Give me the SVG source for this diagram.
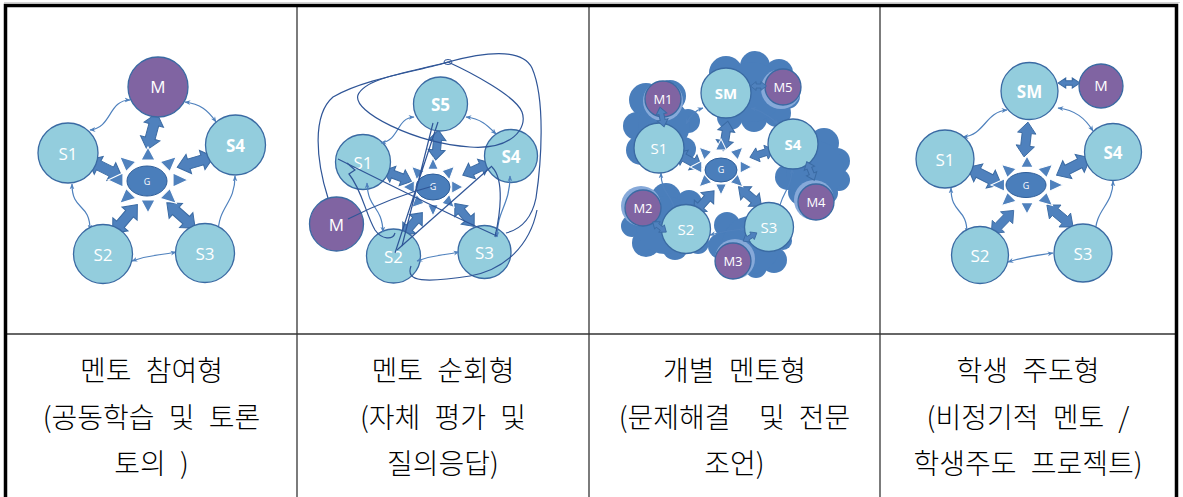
<svg xmlns="http://www.w3.org/2000/svg" xmlns:xlink="http://www.w3.org/1999/xlink" width="1183" height="497" viewBox="0 0 1183 497">
  <style>
    .nd { fill: #93CDDD; stroke: #3A6AA3; stroke-width: 1.3; }
    .mn { fill: #8064A2; stroke: #3A6AA3; stroke-width: 1.3; }
    .ba { fill: #4F81BD; stroke: #3A6AA3; stroke-width: 1; }
    .ray { fill: #4F81BD; stroke: #FFFFFF; stroke-width: 1.2; }
    .gc { fill: #4A7EBB; stroke: #2E5E9A; stroke-width: 1; }
    .lk { fill: none; stroke: #4F81BD; stroke-width: 1.2; marker-start: url(#tip); marker-end: url(#tip); }
    .lp { fill: none; stroke: #2F5597; stroke-width: 1.2; }
    .cl { fill: #4A7EBB; }
    .halo { fill: #86A9D9; }
    .lb { fill: #FFFFFF; font-family: "Open Sans", "Noto Sans", sans-serif; font-size: 17px; text-anchor: middle; }
    .lbs { font-size: 15px; }
    .lbm { font-size: 13px; }
    .b { font-weight: bold; }
    .gl { fill: #FFFFFF; font-family: "Open Sans", "Noto Sans", sans-serif; font-size: 9px; text-anchor: middle; }
    .cap { fill: #000000; font-family: "Noto Sans CJK KR", sans-serif; font-weight: 300; font-size: 28px; text-anchor: middle; word-spacing: 8px; }
    .grid { stroke: #444444; stroke-width: 1.4; }
    .frame { stroke: #000000; stroke-width: 3.5; fill: none; }
  </style>
  <defs>
    <marker id="tip" viewBox="0 0 10 10" refX="9" refY="5" markerWidth="6" markerHeight="6" markerUnits="userSpaceOnUse" orient="auto-start-reverse">
      <path d="M0,1 L10,5 L0,9 L3,5 Z" fill="#4F81BD"/>
    </marker>
    <!-- double-headed block arrows, centred on the origin along x -->
    <path id="bigA" d="M-19,0 L-7,-10 L-7,-5 L7,-5 L7,-10 L19,0 L7,10 L7,5 L-7,5 L-7,10 Z"/>
    <path id="medA" d="M-15,0 L-5,-8.5 L-5,-4 L5,-4 L5,-8.5 L15,0 L5,8.5 L5,4 L-5,4 L-5,8.5 Z"/>
    <path id="smlA" d="M-10,0 L-3,-5.5 L-3,-2.5 L3,-2.5 L3,-5.5 L10,0 L3,5.5 L3,2.5 L-3,2.5 L-3,5.5 Z"/>
    <!-- eight rays of the hub -->
    <path id="rays" d="M40,0 L25,-7 L25,7 Z M0,33 L-7,20 L7,20 Z M-40,0 L-25,-7 L-25,7 Z M0,-33 L-7,-20 L7,-20 Z M28.3,23.3 L12.05,18.35 L21.95,8.45 Z M-28.3,23.3 L-21.95,8.45 L-12.05,18.35 Z M-28.3,-23.3 L-21.95,-8.45 L-12.05,-18.35 Z M28.3,-23.3 L21.95,-8.45 L12.05,-18.35 Z"/>
  </defs>

  <rect width="1183" height="497" fill="#FFFFFF"/>

  <!-- table -->
  <g id="table">
    <line x1="4" y1="2.5" x2="1180" y2="2.5" stroke="#D4D4D4" stroke-width="1"/>
    <line class="grid" x1="297" y1="7" x2="297" y2="497"/>
    <line class="grid" x1="589" y1="7" x2="589" y2="497"/>
    <line class="grid" x1="880" y1="7" x2="880" y2="497"/>
    <line x1="7" y1="334" x2="1175" y2="334" stroke="#333333" stroke-width="1.3"/>
    <path class="frame" d="M5.5,497 L5.5,5.5 L1176.5,5.5 L1176.5,497"/>
  </g>

  <!-- panel 1 -->
  <g id="p1-connectors">
    <path class="lk" d="M130,100 C108,100 112,128 90,130"/>
    <path class="lk" d="M185,102 C200,104 208,110 216,122"/>
    <path class="lk" d="M235,176 C235,205 218,205 218,235"/>
    <path class="lk" d="M72,184 C72,212 90,202 90,230"/>
    <path class="lk" d="M132,261 C152,254 157,256 176,252"/>
    <use href="#bigA" class="ba" transform="translate(152,131.5) rotate(105)"/>
    <use href="#bigA" class="ba" transform="translate(105,168.5) rotate(26.6)"/>
    <use href="#bigA" class="ba" transform="translate(195.5,162) rotate(-16)"/>
    <use href="#bigA" class="ba" transform="translate(125,219) rotate(-49.4)"/>
    <use href="#bigA" class="ba" transform="translate(181,215.5) rotate(41.8)"/>
  </g>
  <g id="p1-G">
    <use href="#rays" class="ray" transform="translate(148,180)"/>
    <ellipse class="gc" cx="147" cy="181" rx="20" ry="15"/>
    <text class="gl" x="147" y="184.5">G</text>
  </g>
  <g id="p1-M"><circle class="mn" cx="158" cy="87" r="30"/><text class="lb" x="158" y="93">M</text></g>
  <g id="p1-S1"><circle class="nd" cx="68" cy="153" r="30"/><text class="lb" x="68" y="160">S1</text></g>
  <g id="p1-S4"><circle class="nd" cx="235.5" cy="145" r="30"/><text class="lb b" x="235.5" y="152">S4</text></g>
  <g id="p1-S2"><circle class="nd" cx="103" cy="254" r="29.5"/><text class="lb" x="103" y="261">S2</text></g>
  <g id="p1-S3"><circle class="nd" cx="205" cy="253" r="29.5"/><text class="lb" x="205" y="260">S3</text></g>

  <!-- panel 2 -->
  <g id="p2-arrows">
    <use href="#medA" class="ba" transform="translate(437,145) rotate(95)"/>
    <use href="#medA" class="ba" transform="translate(397.5,176) rotate(21)"/>
    <use href="#medA" class="ba" transform="translate(476.5,169) rotate(-24)"/>
    <use href="#medA" class="ba" transform="translate(412.5,224) rotate(-49)"/>
    <use href="#medA" class="ba" transform="translate(464.5,215) rotate(50)"/>
  </g>
  <g id="p2-G">
    <use href="#rays" class="ray" transform="translate(433,187) scale(0.75,0.88)"/>
    <ellipse class="gc" cx="433" cy="187" rx="17" ry="13"/>
    <text class="gl" x="433" y="190">G</text>
  </g>
  <g id="p2-S5"><circle class="nd" cx="440.5" cy="104" r="27"/><text class="lb b" x="440.5" y="111">S5</text></g>
  <g id="p2-S1"><circle class="nd" cx="363" cy="162" r="27.5"/><text class="lb" x="363" y="169">S1</text></g>
  <g id="p2-S4"><circle class="nd" cx="511" cy="156" r="26.5"/><text class="lb b" x="511" y="163">S4</text></g>
  <g id="p2-M"><circle class="mn" cx="336.5" cy="224" r="27"/><text class="lb" x="336.5" y="231">M</text></g>
  <g id="p2-S2"><circle class="nd" cx="393.5" cy="256" r="27"/><text class="lb" x="393.5" y="263">S2</text></g>
  <g id="p2-S3"><circle class="nd" cx="484.5" cy="252" r="26.5"/><text class="lb" x="484.5" y="259">S3</text></g>
  <g id="p2-connectors">
    <path class="lk" d="M414,117 C396,118 400,140 381,143"/>
    <path class="lk" d="M466,117 C482,119 488,126 496,134"/>
    <path class="lk" d="M367,183 C368,210 382,205 383,232"/>
    <path class="lk" d="M417,261 C436,254 441,256 459,252"/>
    <path class="lk" d="M510,176 C510,205 497,210 497,237"/>
    <path class="lp" d="M328,198 C316,160 312,115 333,97 C365,78 425,70 448,62 C485,52 522,48 532,68 C546,100 541,165 536,198 C531,222 518,230 506,233"/>
    <path class="lp" d="M448,62 C410,72 365,78 358,95 C352,112 415,143 470,147 C512,150 528,128 522,112 C516,96 470,72 448,62"/>
    <path class="lp" d="M338,159 C380,180 450,215 497,236"/>
    <path class="lp" d="M348,219 C380,203 410,192 433,186"/>
    <path class="lp" d="M395,253 L438,122 M402,246 L433,123"/>
    <path class="lp" d="M397,250 L492,166"/>
    <path class="lp" d="M411,266 C405,282 425,283 470,276 C505,270 530,245 537,210"/>
    <path class="lp" d="M347,163 L355,170 L349,174 C362,190 366,215 375,230 C382,240 393,240 395,233"/>
    <path class="lp" d="M492,167 C505,180 500,215 495,237"/>
    <ellipse cx="448" cy="62" rx="4" ry="2.5" fill="none" stroke="#2F5597" stroke-width="1"/>
  </g>

  <!-- panel 3 -->
  <g id="p3-clouds">
    <g class="cl">
      <circle cx="646" cy="100" r="17"/><circle cx="670" cy="96" r="16"/><circle cx="637" cy="126" r="14"/>
      <circle cx="688" cy="121" r="12"/><circle cx="641" cy="150" r="15"/><circle cx="663" cy="155" r="13"/>
      <circle cx="684" cy="149" r="12"/><circle cx="664" cy="125" r="26"/>
    </g>
    <g class="cl">
      <circle cx="726" cy="73" r="17"/><circle cx="755" cy="66" r="15"/><circle cx="779" cy="73" r="14"/>
      <circle cx="787" cy="96" r="13"/><circle cx="777" cy="113" r="14"/><circle cx="754" cy="119" r="13"/>
      <circle cx="730" cy="117" r="13"/><circle cx="715" cy="99" r="13"/><circle cx="752" cy="92" r="30"/>
    </g>
    <g class="cl">
      <circle cx="801" cy="143" r="15"/><circle cx="824" cy="143" r="15"/><circle cx="837" cy="161" r="13"/>
      <circle cx="839" cy="180" r="11"/><circle cx="827" cy="193" r="11"/><circle cx="801" cy="192" r="13"/>
      <circle cx="788" cy="177" r="13"/><circle cx="815" cy="170" r="29"/>
    </g>
    <g class="cl">
      <circle cx="643" cy="203" r="15"/><circle cx="666" cy="198" r="15"/><circle cx="689" cy="203" r="13"/>
      <circle cx="632" cy="226" r="11"/><circle cx="646" cy="243" r="14"/><circle cx="675" cy="247" r="13"/>
      <circle cx="698" cy="243" r="11"/><circle cx="665" cy="225" r="29"/>
    </g>
    <g class="cl">
      <circle cx="727" cy="225" r="13"/><circle cx="721" cy="246" r="13"/><circle cx="732" cy="263" r="13"/>
      <circle cx="756" cy="267" r="11"/><circle cx="774" cy="260" r="13"/><circle cx="783" cy="241" r="9"/>
      <circle cx="751" cy="245" r="29"/>
    </g>
  </g>
  <g id="p3-connectors">
    <path class="lk" d="M686,124 C692,113 697,110 703,108"/>
    <path class="lk" d="M661,173 C661,195 674,195 675,213"/>
    <path class="lk" d="M792,169 C792,190 779,195 779,213"/>
    <path class="lk" d="M710,235 C722,232 732,230 745,229"/>
    <path class="lk" d="M751,108 C765,112 772,118 778,124"/>
    <use href="#medA" class="ba" transform="translate(725.5,136) rotate(99)"/>
    <use href="#medA" class="ba" transform="translate(688.5,160) rotate(29)"/>
    <use href="#medA" class="ba" transform="translate(762,153.5) rotate(-17.6) scale(0.85)"/>
    <use href="#medA" class="ba" transform="translate(704,202) rotate(-48)"/>
    <use href="#medA" class="ba" transform="translate(750,196.5) rotate(40)"/>
  </g>
  <g id="p3-G">
    <use href="#rays" class="ray" transform="translate(721,167) scale(0.77,0.85)"/>
    <ellipse class="gc" cx="721" cy="170" rx="16" ry="12"/>
    <text class="gl" x="721" y="173">G</text>
  </g>
  <g id="p3-SM"><circle class="nd" cx="726" cy="93" r="25"/><text class="lb lbs b" x="726" y="99">SM</text></g>
  <g id="p3-M5"><circle class="halo" cx="781" cy="89" r="20"/><circle class="mn" cx="783" cy="87" r="18"/><text class="lb lbm" x="783" y="92">M5</text></g>
  <g id="p3-M1"><circle class="halo" cx="663" cy="101" r="20"/><circle class="mn" cx="663" cy="99" r="18"/><text class="lb lbm" x="663" y="104">M1</text></g>
  <g id="p3-S1"><circle class="nd" cx="659" cy="148" r="25"/><text class="lb lbs" x="659" y="154">S1</text></g>
  <g id="p3-S4"><circle class="nd" cx="793" cy="144" r="25"/><text class="lb lbs b" x="793" y="150">S4</text></g>
  <g id="p3-M4"><circle class="halo" cx="814" cy="200" r="20"/><circle class="mn" cx="816" cy="202" r="18"/><text class="lb lbm" x="816" y="207">M4</text></g>
  <g id="p3-M2"><circle class="halo" cx="641" cy="206" r="20"/><circle class="mn" cx="643" cy="208" r="18"/><text class="lb lbm" x="643" y="213">M2</text></g>
  <g id="p3-S2"><circle class="nd" cx="686" cy="229" r="24.5"/><text class="lb lbs" x="686" y="235">S2</text></g>
  <g id="p3-S3"><circle class="nd" cx="769" cy="227" r="24.5"/><text class="lb lbs" x="769" y="233">S3</text></g>
  <g id="p3-M3"><circle class="halo" cx="735" cy="259" r="20"/><circle class="mn" cx="733" cy="261" r="18"/><text class="lb lbm" x="733" y="266">M3</text></g>
  <g id="p3-links">
    <use href="#smlA" class="ba" transform="translate(758.5,86) scale(0.8)"/>
    <use href="#smlA" class="ba" transform="translate(662,117) rotate(78)"/>
    <use href="#smlA" class="ba" transform="translate(810.5,171) rotate(68)"/>
    <use href="#smlA" class="ba" transform="translate(659.5,227) rotate(37) scale(0.85)"/>
    <use href="#smlA" class="ba" transform="translate(750,237) rotate(-31) scale(0.8)"/>
  </g>

  <!-- panel 4 -->
  <g id="p4-connectors">
    <path class="lk" d="M1007,110 C985,112 985,135 963,137"/>
    <path class="lk" d="M1058,108 C1075,110 1085,118 1093,131"/>
    <path class="lk" d="M951,188 C951,215 967,207 967,233"/>
    <path class="lk" d="M1113,181 C1113,207 1095,207 1095,237"/>
    <path class="lk" d="M1008,262 C1027,256 1032,256 1053,253"/>
    <use href="#bigA" class="ba" transform="translate(1026,139.5) rotate(96.5) scale(0.92)"/>
    <use href="#bigA" class="ba" transform="translate(984.5,176) rotate(27)"/>
    <use href="#bigA" class="ba" transform="translate(1073.5,166.5) rotate(-27)"/>
    <use href="#bigA" class="ba" transform="translate(1002.5,222) rotate(-46) scale(0.85)"/>
    <use href="#bigA" class="ba" transform="translate(1060,216) rotate(40) scale(0.9)"/>
    <use href="#smlA" class="ba" transform="translate(1069,83) scale(1.1,0.9)"/>
  </g>
  <g id="p4-G">
    <use href="#rays" class="ray" transform="translate(1027,185) scale(0.9,0.88)"/>
    <ellipse class="gc" cx="1026" cy="185" rx="20" ry="12.5"/>
    <text class="gl" x="1026" y="188.5">G</text>
  </g>
  <g id="p4-SM"><circle class="nd" cx="1029.5" cy="91" r="28.5"/><text class="lb b" x="1029.5" y="98">SM</text></g>
  <g id="p4-M"><circle class="mn" cx="1101" cy="86" r="22"/><text class="lb lbs" x="1101" y="91">M</text></g>
  <g id="p4-S1"><circle class="nd" cx="945" cy="159" r="29"/><text class="lb" x="945" y="166">S1</text></g>
  <g id="p4-S4"><circle class="nd" cx="1113" cy="152" r="28.5"/><text class="lb b" x="1113" y="159">S4</text></g>
  <g id="p4-S2"><circle class="nd" cx="980" cy="255" r="28.5"/><text class="lb" x="980" y="262">S2</text></g>
  <g id="p4-S3"><circle class="nd" cx="1083" cy="253" r="29"/><text class="lb" x="1083" y="260">S3</text></g>

  <!-- captions -->
  <g id="captions">
    <text class="cap" x="151.5" y="381">멘토 참여형</text>
    <text class="cap" x="151.5" y="428">(공동학습 및 토론</text>
    <text class="cap" x="151.5" y="474">토의 )</text>
    <text class="cap" x="443" y="381">멘토 순회형</text>
    <text class="cap" x="443" y="428">(자체 평가 및</text>
    <text class="cap" x="443" y="474">질의응답)</text>
    <text class="cap" x="734.5" y="381">개별 멘토형</text>
    <text class="cap" x="734.5" y="428" xml:space="preserve">(문제해결  및 전문</text>
    <text class="cap" x="734.5" y="474">조언)</text>
    <text class="cap" x="1028" y="381">학생 주도형</text>
    <text class="cap" x="1028" y="428">(비정기적 멘토 /</text>
    <text class="cap" x="1028" y="474">학생주도 프로젝트)</text>
  </g>
</svg>
